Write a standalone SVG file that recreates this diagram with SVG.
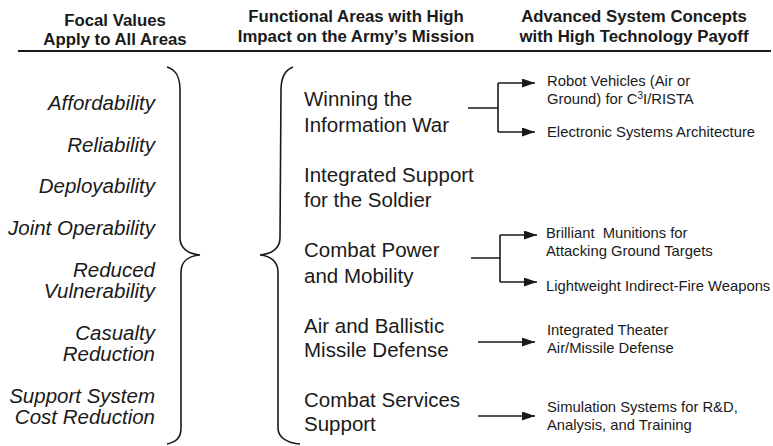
<svg xmlns="http://www.w3.org/2000/svg" width="773" height="446" viewBox="0 0 773 446">
<style>
text{font-family:"Liberation Sans",Arial,sans-serif;fill:#1a1a1a}
.h{font-weight:bold;font-size:16.8px;text-anchor:middle}
.v{font-style:italic;font-size:20.5px;text-anchor:end}
.a{font-size:20.5px}
.c{font-size:14.8px}
.ln{fill:none;stroke:#1a1a1a;stroke-width:1.6}
</style>
<defs>
<marker id="arr" markerUnits="userSpaceOnUse" markerWidth="13" markerHeight="9" refX="13" refY="4.5" orient="auto">
<path d="M0,0 L13,4.5 L0,9 z" fill="#1a1a1a"/>
</marker>
</defs>
<g id="headers">
<text class="h" x="115" y="26">Focal Values</text>
<text class="h" x="115" y="45">Apply to All Areas</text>
<text class="h" x="356" y="22">Functional Areas with High</text>
<text class="h" x="356" y="42">Impact on the Army’s Mission</text>
<text class="h" x="634" y="22">Advanced System Concepts</text>
<text class="h" x="634" y="42">with High Technology Payoff</text>
<line x1="18" y1="51" x2="771" y2="51" stroke="#1a1a1a" stroke-width="2"/>
</g>
<g id="focal-values">
<text class="v" x="155" y="110">Affordability</text>
<text class="v" x="155" y="152">Reliability</text>
<text class="v" x="155" y="193">Deployability</text>
<text class="v" x="155" y="235">Joint Operability</text>
<text class="v" x="155" y="277">Reduced</text>
<text class="v" x="155" y="298">Vulnerability</text>
<text class="v" x="155" y="340">Casualty</text>
<text class="v" x="155" y="361">Reduction</text>
<text class="v" x="155" y="403">Support System</text>
<text class="v" x="155" y="424">Cost Reduction</text>
</g>
<g id="brace-left">
<path class="ln" d="M167,67 C177,70 180,78 180,90 L180,238 C180,248 188,254 200,255 C188,256 181,262 181,272 L181,428 C181,438 176,442 167,444"/>
</g>
<g id="brace-right">
<path class="ln" d="M293,67 C285,70 281,78 281,90 L280,238 C280,248 272,254 260,255 C271,256 278,262 278,272 L278,428 C278,438 288,443 300,444"/>
</g>
<g id="area-info-war"><text class="a" x="304" y="106">Winning the</text><text class="a" x="304" y="132">Information War</text></g>
<g id="area-soldier"><text class="a" x="304" y="182">Integrated Support</text><text class="a" x="304" y="207">for the Soldier</text></g>
<g id="area-combat-power"><text class="a" x="304" y="257">Combat Power</text><text class="a" x="304" y="283">and Mobility</text></g>
<g id="area-air-defense"><text class="a" x="304" y="333">Air and Ballistic</text><text class="a" x="304" y="357">Missile Defense</text></g>
<g id="area-services"><text class="a" x="304" y="407">Combat Services</text><text class="a" x="304" y="431">Support</text></g>
<g id="concept-robot"><text class="c" x="547" y="86">Robot Vehicles (Air or</text><text class="c" x="547" y="104">Ground) for C<tspan font-size="10" dy="-5">3</tspan><tspan dy="5">I/RISTA</tspan></text></g>
<g id="concept-electronic"><text class="c" x="547" y="137">Electronic Systems Architecture</text></g>
<g id="concept-munitions"><text class="c" x="546" y="238" xml:space="preserve" style="white-space:pre">Brilliant  Munitions for</text><text class="c" x="546" y="256">Attacking Ground Targets</text></g>
<g id="concept-lightweight"><text class="c" x="546" y="291">Lightweight Indirect-Fire Weapons</text></g>
<g id="concept-theater"><text class="c" x="547" y="335">Integrated Theater</text><text class="c" x="547" y="353">Air/Missile Defense</text></g>
<g id="concept-simulation"><text class="c" x="547" y="412">Simulation Systems for R&amp;D,</text><text class="c" x="547" y="430">Analysis, and Training</text></g>
<g id="connectors">
<path class="ln" d="M468,108 H498 M498,83 V132"/>
<path class="ln" d="M498,83 H535" marker-end="url(#arr)"/>
<path class="ln" d="M498,132 H535" marker-end="url(#arr)"/>
<path class="ln" d="M471,258 H500 M500,235 V282"/>
<path class="ln" d="M500,235 H537" marker-end="url(#arr)"/>
<path class="ln" d="M500,282 H537" marker-end="url(#arr)"/>
<path class="ln" d="M478,342 H535" marker-end="url(#arr)"/>
<path class="ln" d="M478,416 H535" marker-end="url(#arr)"/>
</g>
</svg>
